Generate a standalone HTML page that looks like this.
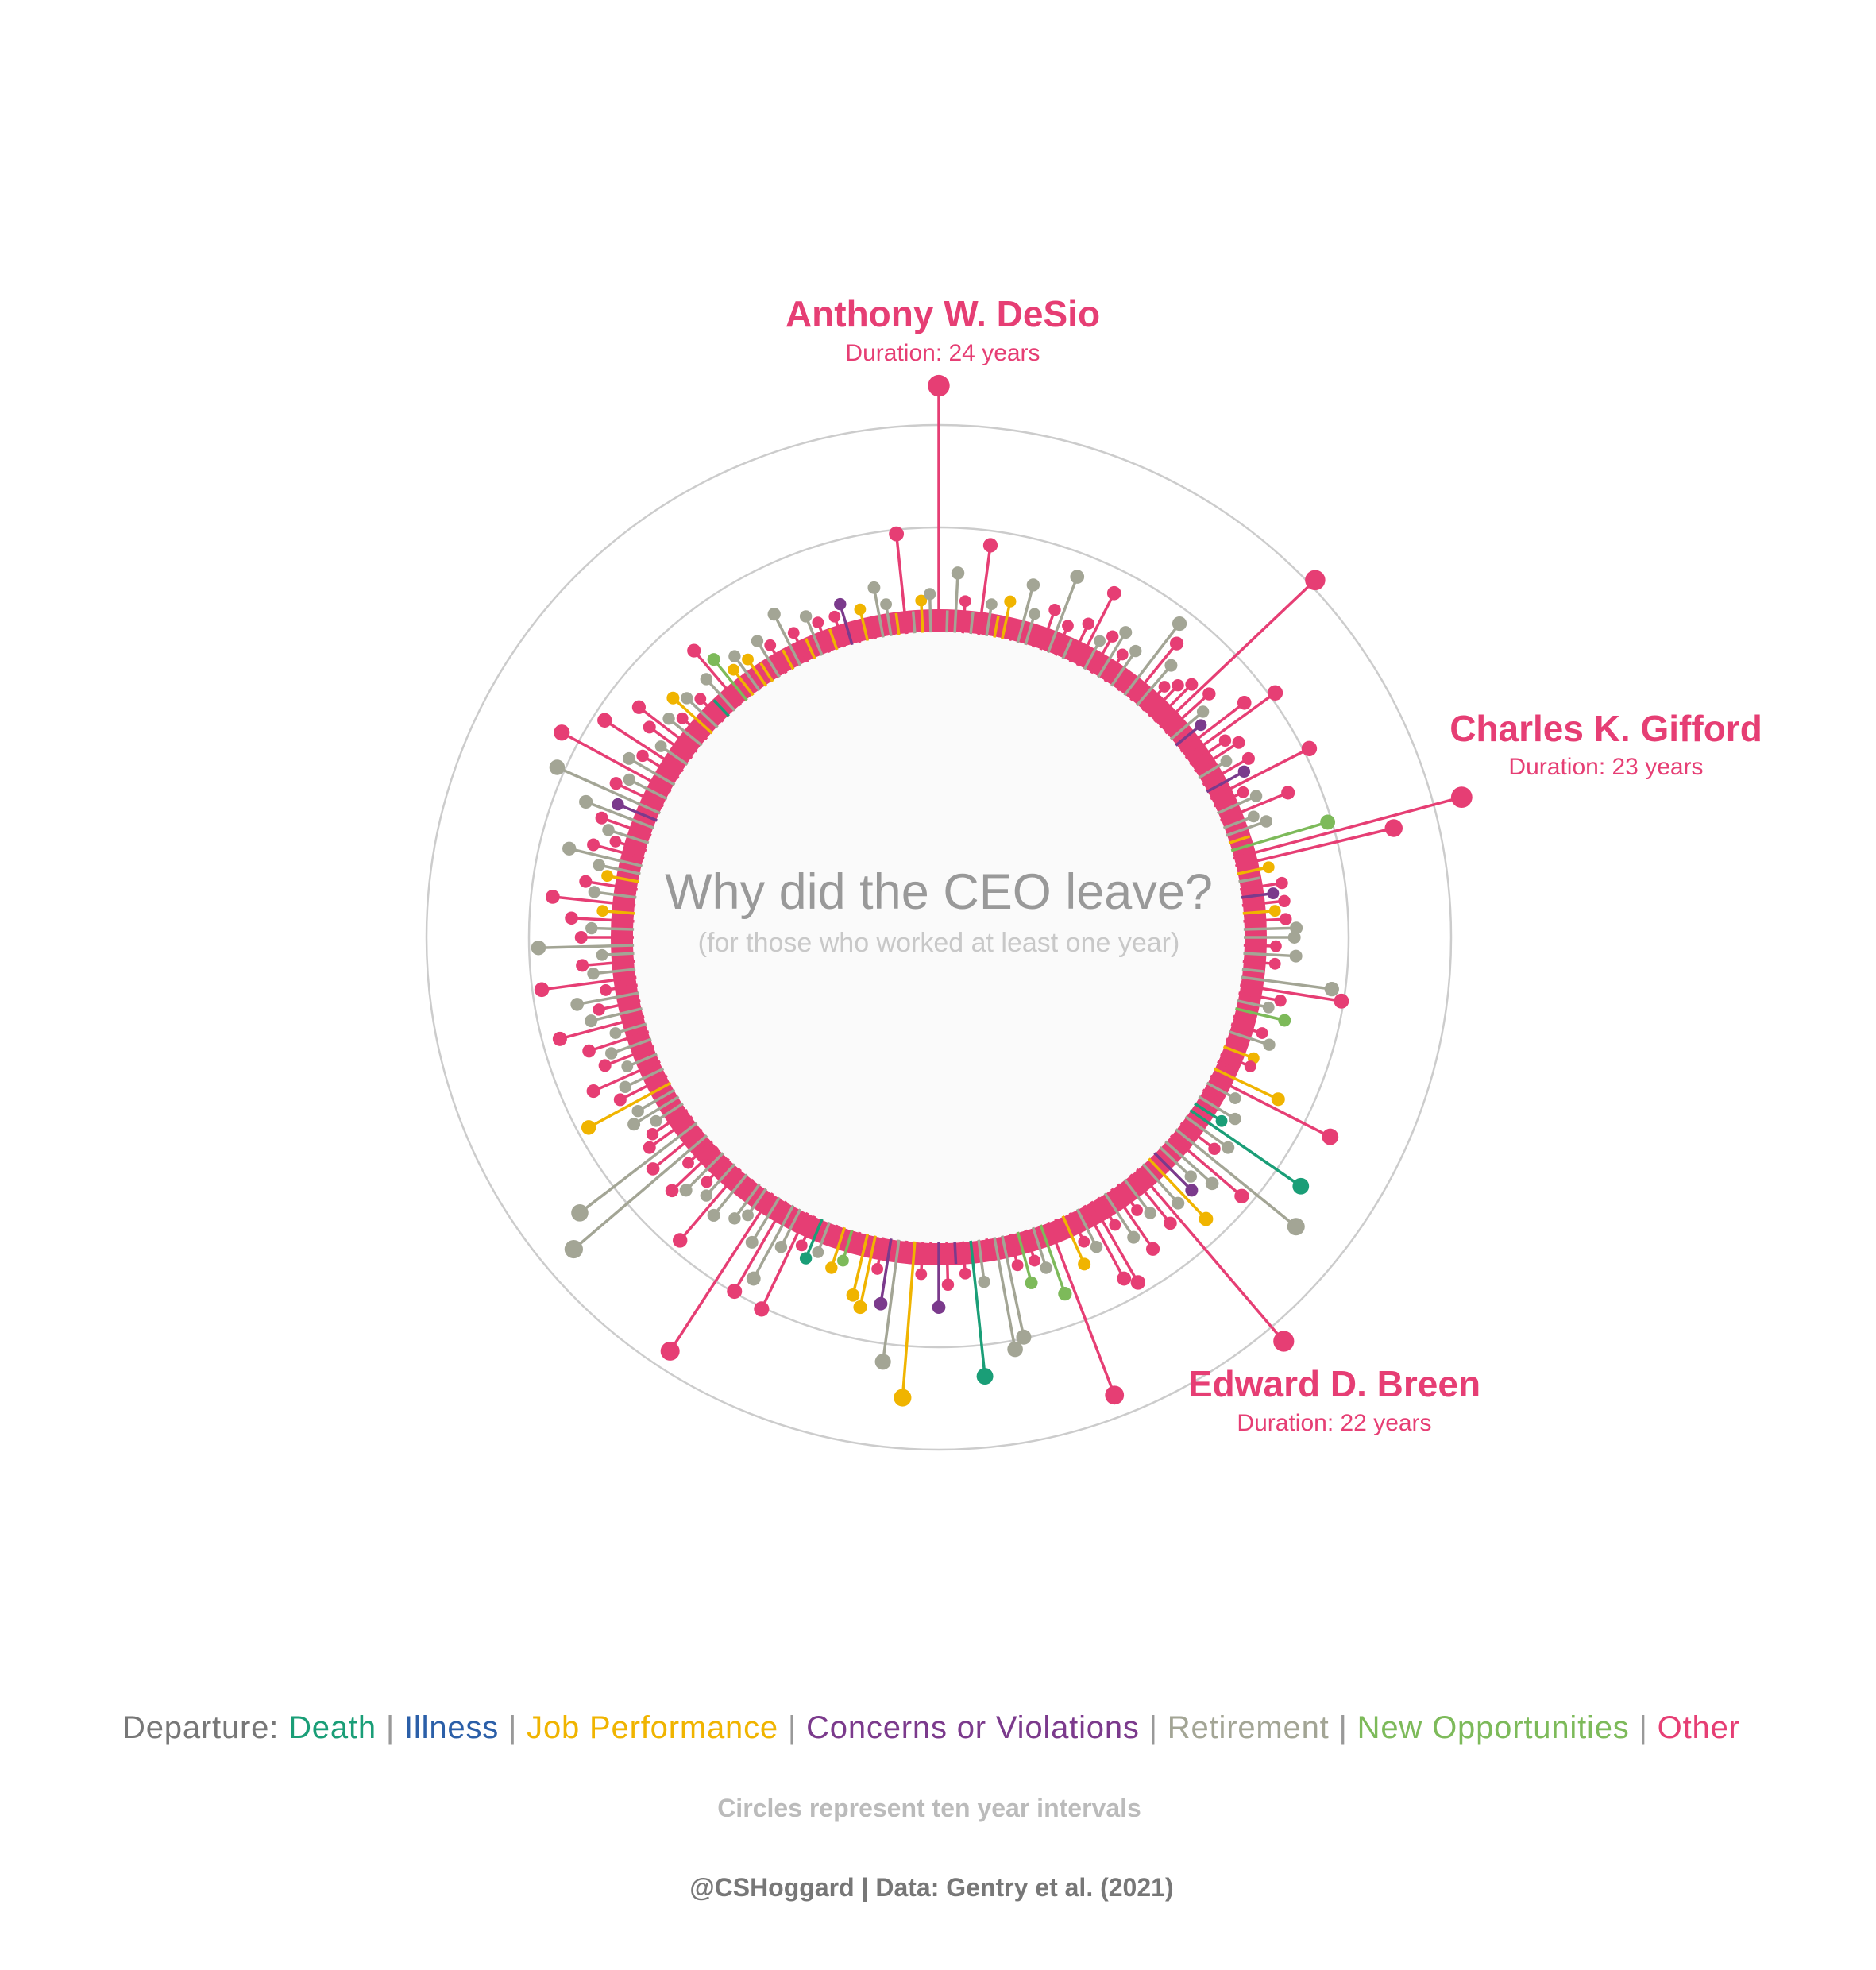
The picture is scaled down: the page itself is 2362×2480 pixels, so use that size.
<!DOCTYPE html>
<html><head><meta charset="utf-8"><style>
html,body{margin:0;padding:0;background:#fff;}
svg{display:block;font-family:"Liberation Sans",sans-serif;}
</style></head><body>
<svg id="chart" width="2362" height="2480" viewBox="0 0 2362 2480" xmlns="http://www.w3.org/2000/svg">
<rect width="2362" height="2480" fill="#fff"/>
<g transform="translate(6,7)">
<circle cx="1176" cy="1173" r="645" fill="none" stroke="#cccccc" stroke-width="2.5"/>
<circle cx="1176" cy="1173" r="516" fill="none" stroke="#cccccc" stroke-width="2.5"/>
<circle cx="1176" cy="1173" r="399" fill="none" stroke="#e63e74" stroke-width="28"/>
<circle cx="1176" cy="1173" r="385" fill="#fafafa"/>
<g id="lines"></g><g id="dots"></g>
<text x="1176" y="1137" text-anchor="middle" font-size="63" fill="#999">Why did the CEO leave?</text>
<text x="1176" y="1191" text-anchor="middle" font-size="34" fill="#c8c8c8">(for those who worked at least one year)</text>
<text x="1181" y="404" text-anchor="middle" font-size="46" font-weight="bold" fill="#e63e74">Anthony W. DeSio</text>
<text x="1181" y="447" text-anchor="middle" font-size="30" fill="#e63e74">Duration: 24 years</text>
<text x="2016" y="926" text-anchor="middle" font-size="46" font-weight="bold" fill="#e63e74">Charles K. Gifford</text>
<text x="2016" y="968" text-anchor="middle" font-size="30" fill="#e63e74">Duration: 23 years</text>
<text x="1674" y="1751" text-anchor="middle" font-size="46" font-weight="bold" fill="#e63e74">Edward D. Breen</text>
<text x="1674" y="1794" text-anchor="middle" font-size="30" fill="#e63e74">Duration: 22 years</text>
</g>
<text x="1172" y="2188" text-anchor="middle" font-size="40" textLength="2036" lengthAdjust="spacing"><tspan fill="#777">Departure: </tspan><tspan fill="#1a9e77">Death</tspan><tspan fill="#999"> | </tspan><tspan fill="#2b5fa8">Illness</tspan><tspan fill="#999"> | </tspan><tspan fill="#f0b400">Job Performance</tspan><tspan fill="#999"> | </tspan><tspan fill="#7b3a8c">Concerns or Violations</tspan><tspan fill="#999"> | </tspan><tspan fill="#a3a595">Retirement</tspan><tspan fill="#999"> | </tspan><tspan fill="#7dba5a">New Opportunities</tspan><tspan fill="#999"> | </tspan><tspan fill="#e63e74">Other</tspan></text>
<text x="1170" y="2287" text-anchor="middle" font-size="32" font-weight="bold" fill="#bbbbbb">Circles represent ten year intervals</text>
<text x="1173" y="2387" text-anchor="middle" font-size="32" font-weight="bold" fill="#777777">@CSHoggard | Data: Gentry et al. (2021)</text>
</svg>
<script>
const durations = [
24,2,5.7,3,2,8.7,3,2,3.6,2,5.7,3,2,4,7.8,3,2,4,7.8,3,
4,5,3,4,2,8.7,7,5,3,4,5,20.8,5.6,4,3,7.7,10.7,4,5,3,
5,4,10.7,3,4,7,3,4,2,9.7,23,15.8,3,2,4,3,4,3,4,5,
4.8,3,5,3,2,8.8,9.9,4,3,4.8,2,3,4,2,3,3,2,6.8,13,3,
2,4,3,13,5,4,15,9,6,4,5,8,5,22,6,4,3,7,5,3,
9,8,4,3,5,2,18,7,4,3,5,3,10,11,2,4,13.2,3,2,4,
6.2,2,3,15.2,2,11.9,6.3,3,7,6,2,3,4,2,3,4,3,10.3,4,8,
10,5,18.3,3,4,2,5,9,4,3,5,6,3,17,6,14.3,5,4,3,5,
4,9,5,4,7,3,5,4,6,3,8.4,5,4,6,3,9.2,4,5,3,9.2,
5,4,6,3,8,4,5,3,4,7.2,5,3,4,5,7,4,10.9,5,4,12,
5,4,9,3,5,7,4,3,5,4,3,2,4,6.9,5,3,4,3,2,4,
3,2,5.5,3,2,4,3,2,3,4,2,3,2,4.8,3,2,9.7,2,3,3.6
];
const reasonRows = [
"ORRORORJJORROOROROOR",
"OROROROROOOOORCOOOOR",
"OCOORORRJNOOJROCOJOR",
"RORORROORNOOROJOOJOR",
"ORDDRORORRCJROOROORO",
"OOROJOONRONORRORDOCO",
"COOJORCOJJONJORDOORR",
"ORORROROROROOROROORR",
"RJOROROROROROROORORR",
"OROJOROJRROORORCRORO",
"ROOROOROJRODRONJRJJR",
"OJROJROJOCOJORRJORJR"
];
const categories = reasonRows.join("").split("");
const colors = {D:"#1a9e77",I:"#2b5fa8",J:"#f0b400",C:"#7b3a8c",R:"#a3a595",N:"#7dba5a",O:"#e63e74"};
const cx = 1176, cy = 1173, r0 = 386, perYear = 12.85;
function rScale(d){ return r0 + perYear * d; }
function aScale(i){ return (i / durations.length) * 2 * Math.PI; }
const NS = "http://www.w3.org/2000/svg";
const gL = document.getElementById("lines"), gD = document.getElementById("dots");
durations.forEach(function(d, i){
  const a = aScale(i), r = rScale(d);
  const col = colors[categories[i]] || colors.O;
  const x1 = cx + Math.sin(a) * (r0 - 2), y1 = cy - Math.cos(a) * (r0 - 2);
  const x2 = cx + Math.sin(a) * r, y2 = cy - Math.cos(a) * r;
  const ln = document.createElementNS(NS, "line");
  ln.setAttribute("x1", x1); ln.setAttribute("y1", y1);
  ln.setAttribute("x2", x2); ln.setAttribute("y2", y2);
  ln.setAttribute("stroke", col); ln.setAttribute("stroke-width", "3.5");
  
  
  gL.appendChild(ln);
  if (d > 2.5) {
    const c = document.createElementNS(NS, "circle");
    c.setAttribute("cx", x2); c.setAttribute("cy", y2);
    c.setAttribute("r", 6.5 + 0.3 * d);
    c.setAttribute("fill", col);
    
    
    gD.appendChild(c);
  }
});
</script>
</body></html>
